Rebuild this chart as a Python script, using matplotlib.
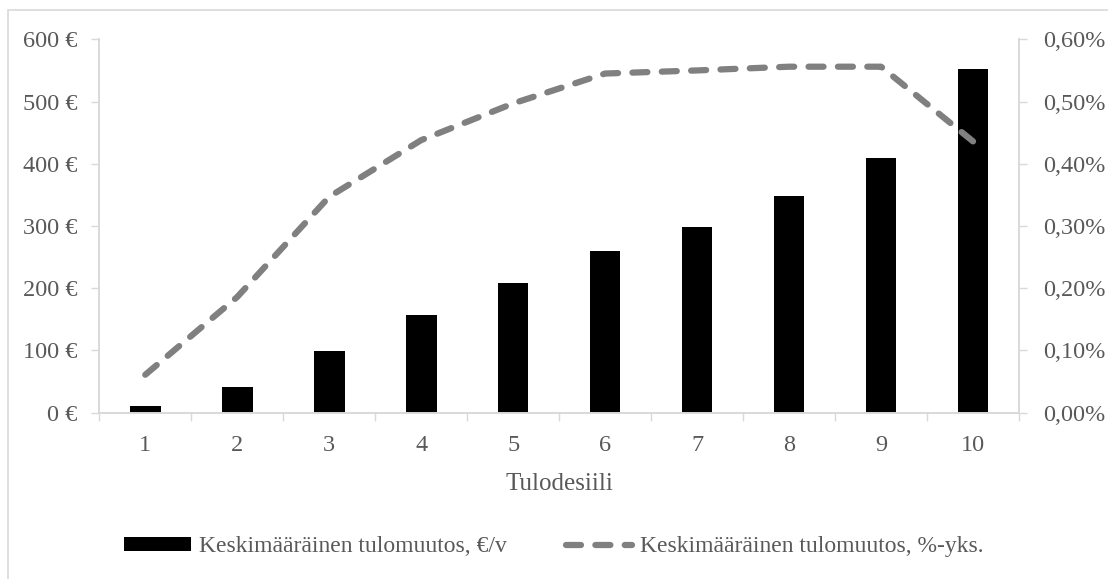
import matplotlib.pyplot as plt
from matplotlib.patches import Rectangle
from matplotlib.ticker import FuncFormatter, FixedLocator

# Income change by income decile
deciles = [1, 2, 3, 4, 5, 6, 7, 8, 9, 10]
change_eur = [10, 42, 99, 157, 208, 260, 299, 348, 409, 552]          # €/v
change_pct = [0.061, 0.186, 0.347, 0.438, 0.497, 0.545, 0.550, 0.556, 0.556, 0.436]  # %-yks.

bar_label = "Keskimääräinen tulomuutos, €/v"
line_label = "Keskimääräinen tulomuutos, %-yks."
x_title = "Tulodesiili"

plt.rcParams['font.family'] = ['Liberation Serif', 'DejaVu Serif']
text_col = '#595959'
axis_col = '#d9d9d9'
fs = 17.5

fig = plt.figure(figsize=(11.08, 5.79), dpi=100)
ax = fig.add_axes([0.0896, 0.2872, 0.8301, 0.6449])
ax2 = ax.twinx()

ax.bar(deciles, change_eur, width=0.333, color='black', label=bar_label, zorder=2)
ax2.plot(deciles, change_pct, color='#808080', lw=4.5, ls=(0, (2.4, 2.3)),
         dash_capstyle='round', solid_capstyle='round', label=line_label)

ax.set_xlim(0.5, 10.5)
ax.set_ylim(0, 600)
ax2.set_ylim(0, 0.6)
ax.set_yticks(range(0, 601, 100))
ax2.set_yticks([i / 10 for i in range(7)])
ax.yaxis.set_major_formatter(FuncFormatter(lambda v, p: f"{v:.0f} €"))
ax2.yaxis.set_major_formatter(FuncFormatter(lambda v, p: f"{v:.2f}%".replace('.', ',')))

# category labels sit between boundary ticks
ax.xaxis.set_major_locator(FixedLocator([i + 0.5 for i in range(0, 11)]))
ax.xaxis.set_minor_locator(FixedLocator(deciles))
ax.set_xticklabels([])
ax.set_xticklabels([str(d) for d in deciles], minor=True)
ax.tick_params(axis='x', which='major', length=6, width=1, color=axis_col)
ax.tick_params(axis='x', which='minor', length=0, pad=16, labelsize=fs, labelcolor=text_col)
ax.tick_params(axis='y', length=6, width=1, color=axis_col, pad=10, labelsize=fs, labelcolor=text_col)
ax2.tick_params(axis='y', length=6, width=1, color=axis_col, pad=11, labelsize=fs, labelcolor=text_col)

for a in (ax, ax2):
    a.spines['top'].set_visible(False)
    for s in ('left', 'right', 'bottom'):
        a.spines[s].set_color(axis_col)
        a.spines[s].set_linewidth(1.2)

ax.set_xlabel(x_title, fontsize=fs + 0.5, color=text_col, labelpad=12)

h1, l1 = ax.get_legend_handles_labels()
h2, l2 = ax2.get_legend_handles_labels()
fig.legend(h1 + h2, l1 + l2, loc='center', bbox_to_anchor=(0.5, 0.0553), ncol=2,
           frameon=False, fontsize=17, labelcolor=text_col, handlelength=2.8,
           handleheight=0.55, handletextpad=0.35, columnspacing=2.5)

# thin frame around the chart area
fig.add_artist(Rectangle((8 / 1108, -0.1), 1.2, 1 - 10 / 579 + 0.1,
                         transform=fig.transFigure, fill=False,
                         edgecolor=axis_col, lw=1.2))

fig.savefig('out.png', dpi=100)
